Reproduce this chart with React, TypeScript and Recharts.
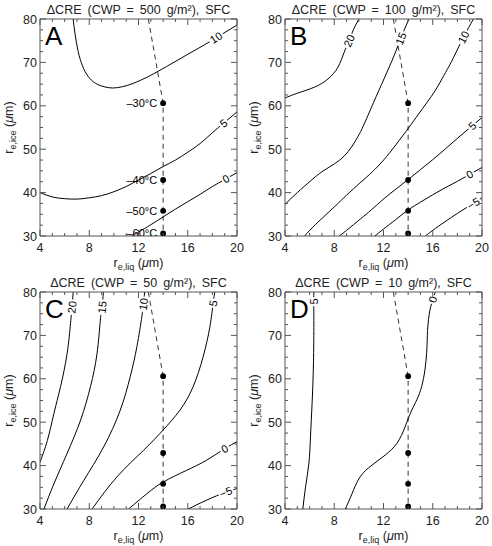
import React from 'react';
import { ComposedChart, Line, Scatter, XAxis, YAxis } from 'recharts';

type P = [number, number];

// ---------- axes ----------
const xTicks = [4, 5, 6, 7, 8, 9, 10, 11, 12, 13, 14, 15, 16, 17, 18, 19, 20];
const xMajor = [4, 8, 12, 16, 20];
const yTicks = [30, 32.5, 35, 37.5, 40, 42.5, 45, 47.5, 50, 52.5, 55, 57.5, 60, 62.5, 65, 67.5, 70, 72.5, 75, 77.5, 80];
const yMajor = [30, 40, 50, 60, 70, 80];

// ---------- temperature path (dashed) and points ----------
const pathX = [12.8, 14, 14];
const pathY = [80, 60.6, 30.5];
const tempX = 14;
const tempY = [60.6, 42.9, 35.8, 30.6];
const tempLabels = ['\u201330\u00b0C', '\u201340\u00b0C', '\u201350\u00b0C', '\u201360\u00b0C'];

// ---------- panel A : CWP = 500 ----------
const a10: P[] = [[6.69, 80], [6.85, 76.5], [7.1, 72.5], [7.45, 69.2], [7.9, 66.8], [8.5, 65.2], [9.2, 64.4], [9.9, 64.1], [10.7, 64.4], [11.6, 65.2], [12.7, 66.6], [13.75, 68.2], [14.8, 69.9], [15.9, 71.7], [16.9, 73.3], [17.8, 74.8], [18.9, 76.7], [20, 78.6]];
const a5: P[] = [[4, 40.0], [5, 39.0], [6, 38.6], [7, 38.5], [8, 38.8], [9, 39.3], [10, 40.2], [11, 41.4], [12, 42.9], [13, 44.4], [14, 46.0], [15, 47.5], [16, 49.3], [17, 51.3], [18, 53.8], [19, 56.2], [20, 58.6]];
const a0: P[] = [[11.46, 30], [12, 30.9], [13, 32.6], [14, 34.4], [15, 36.2], [16, 37.9], [17, 39.6], [18, 41.4], [19, 43.0], [20, 44.6]];
const aLabels = ['10', '5', '0'];
const aLabelX = [18.3, 18.9, 19.1];
const aLabelY = [75.7, 56.0, 43.2];
const aLabelAngle = [-33, -40, -30];

// ---------- panel B : CWP = 100 ----------
const b20: P[] = [[4, 61.8], [5.0, 62.9], [6.4, 64.3], [7.5, 66.2], [8.3, 68.9], [8.8, 72.3], [9.2, 75], [9.55, 77.5], [10.0, 80]];
const b15: P[] = [[4, 37.3], [5, 40.0], [6.12, 42.8], [7, 44.8], [8.0, 46.6], [8.8, 48.4], [9.4, 50.5], [9.9, 52.8], [10.35, 55.3], [11.2, 60.8], [12.04, 66.2], [12.85, 71.5], [13.4, 75.5], [14.06, 80]];
const b10: P[] = [[5.58, 30], [6.5, 32.7], [8.0, 36.7], [9.0, 39.4], [10.16, 42.4], [11.1, 44.8], [12.04, 47.6], [13.0, 51.0], [14.06, 55.0], [14.8, 57.9], [15.54, 60.8], [16.2, 63.5], [16.75, 66.2], [17.3, 69], [17.7, 71.2], [18.5, 75.8], [19.3, 80]];
const b5: P[] = [[8.4, 30], [9, 31.3], [10.16, 34], [11, 36], [12.04, 38.6], [13, 40.8], [14, 43], [15, 45.3], [16, 47.6], [17, 50.0], [18, 52.5], [19, 54.9], [20, 57.3]];
const b0: P[] = [[11.3, 30], [12, 31.6], [13, 33.8], [14, 36], [15, 37.8], [16, 39.5], [17, 41.1], [18, 42.6], [19, 44.2], [20, 45.8]];
const bm5: P[] = [[15.4, 30], [16, 31.3], [17, 33.3], [18, 35.2], [19, 37], [20, 38.8]];
const bLabels = ['20', '15', '10', '5', '0', '\u22125'];
const bLabelX = [9.2, 13.4, 18.5, 19.2, 19.0, 19.3];
const bLabelY = [75, 75.5, 75.8, 55.4, 44.2, 37.5];
const bLabelAngle = [-66, -68, -62, -43, -30, -32];

// ---------- panel C : CWP = 50 ----------
const c20: P[] = [[4, 40.8], [4.6, 45.8], [5.13, 52], [5.67, 58.2], [6.2, 65.8], [6.48, 72.8], [6.6, 76.5], [6.7, 80]];
const c15: P[] = [[4.32, 30], [5.13, 35.8], [6.2, 42.8], [7.3, 50.5], [8.1, 58.2], [8.63, 65.8], [8.9, 73.5], [9.04, 76.5], [9.15, 80]];
const c10: P[] = [[6.2, 30], [7.56, 36.6], [9.17, 44.3], [10.52, 52.8], [11.33, 60.5], [11.87, 67.4], [12.27, 74.3], [12.4, 77.2], [12.5, 80]];
const c5: P[] = [[8.23, 30], [10.25, 37.4], [12.4, 43.5], [14.0, 48.2], [15.37, 52.8], [16.44, 58.2], [17.25, 65.1], [17.8, 72], [18.06, 77.4], [18.2, 80]];
const c0: P[] = [[11.19, 30], [12.67, 33.5], [14, 36.2], [15.9, 38.9], [17.5, 41.2], [19.0, 43.9], [20, 45.5]];
const cm5: P[] = [[16.04, 30], [17.5, 32], [19.1, 33.9], [20, 34.7]];
const cLabels = ['20', '15', '10', '5', '0', '\u22125'];
const cLabelX = [6.6, 9.04, 12.4, 18.06, 19.0, 19.1];
const cLabelY = [76.5, 76.5, 77.2, 77.4, 43.9, 33.9];
const cLabelAngle = [-84, -84, -81, -80, -30, -22];

// ---------- panel D : CWP = 10 ----------
const d5: P[] = [[5.45, 30], [5.67, 35.1], [5.94, 40.5], [6.07, 46.6], [6.2, 54.3], [6.3, 62], [6.34, 70], [6.34, 76.2], [6.34, 80]];
const d0: P[] = [[8.9, 30], [9.44, 33.5], [10.1, 37.4], [11.06, 40.1], [12.13, 42.4], [13.08, 45.1], [13.75, 48.9], [14.3, 52.8], [15.1, 58.2], [15.5, 65.8], [15.58, 71.2], [15.77, 75.8], [16.04, 78.5], [16.2, 80]];
const dLabels = ['5', '0'];
const dLabelX = [6.36, 16.0];
const dLabelY = [77.8, 78.3];
const dLabelAngle = [-90, -74];

// ---------- panel meta ----------
const panelLetters = ['A', 'B', 'C', 'D'];
const panelCwp = [500, 100, 50, 10];

const FONT = '"Liberation Sans", Arial, Helvetica, sans-serif';
const FRAME = '#555';
const TXT = '#222';
const W = 246;
const H = 273;
// plot area spans x 40..237, y 19..236 (axes take 1px each)
const MARGIN = { top: 18, right: 8, bottom: 36, left: 39 };

const toPts = (arr: P[]) => arr.map(([x, y]) => ({ x, y }));

const BottomTick = (props: any) => {
  const { x, y, payload } = props;
  const v = payload.value;
  const major = xMajor.includes(v);
  return (
    <g>
      <line x1={x} y1={y} x2={x} y2={y - (major ? 6 : 3)} stroke={FRAME} strokeWidth={1} />
      {major && (
        <text x={x} y={y + 16} textAnchor="middle" fontSize={12.5} fill={TXT} fontFamily={FONT}>
          {v}
        </text>
      )}
    </g>
  );
};
const TopTick = (props: any) => {
  const { x, y, payload } = props;
  const major = xMajor.includes(payload.value);
  return <line x1={x} y1={y} x2={x} y2={y + (major ? 6 : 3)} stroke={FRAME} strokeWidth={1} />;
};
const LeftTick = (props: any) => {
  const { x, y, payload } = props;
  const v = payload.value;
  const major = yMajor.includes(v);
  return (
    <g>
      <line x1={x} y1={y} x2={x + (major ? 6 : 3)} y2={y} stroke={FRAME} strokeWidth={1} />
      {major && (
        <text x={x - 3} y={y + 4.5} textAnchor="end" fontSize={12.5} fill={TXT} fontFamily={FONT}>
          {v}
        </text>
      )}
    </g>
  );
};
const RightTick = (props: any) => {
  const { x, y, payload } = props;
  const major = yMajor.includes(payload.value);
  return <line x1={x} y1={y} x2={x - (major ? 6 : 3)} y2={y} stroke={FRAME} strokeWidth={1} />;
};

const ContourLabel = (props: any) => {
  const { cx, cy, payload } = props;
  if (cx == null || cy == null) return null;
  const t: string = payload.t;
  const w = t.length * 6.2 + 3;
  return (
    <g transform={`translate(${cx},${cy}) rotate(${payload.a})`}>
      <rect x={-w / 2} y={-5.5} width={w} height={11} fill="#fff" />
      <text x={0} y={4} textAnchor="middle" fontSize={11} fill="#000" fontFamily={FONT}>
        {t}
      </text>
    </g>
  );
};
const Dot = (props: any) => {
  const { cx, cy } = props;
  if (cx == null || cy == null) return null;
  return <circle cx={cx} cy={cy} r={2.9} fill="#000" />;
};
const TempLabel = (props: any) => {
  const { cx, cy, payload } = props;
  if (cx == null || cy == null) return null;
  return (
    <text x={cx - 6} y={cy + 4} textAnchor="end" fontSize={11} fill="#000" fontFamily={FONT}>
      {payload.t}
    </text>
  );
};

type PanelProps = {
  idx: number;
  contours: P[][];
  labels: string[];
  lx: number[];
  ly: number[];
  la: number[];
  temps: boolean;
};

const Panel = ({ idx, contours, labels, lx, ly, la, temps }: PanelProps) => {
  const labelData = labels.map((t, i) => ({ x: lx[i], y: ly[i], t, a: la[i] }));
  const pathData = pathX.map((x, i) => ({ x, y: pathY[i] }));
  const dotData = tempY.map((y, i) => ({ x: tempX, y, t: tempLabels[i] }));
  const plotL = MARGIN.left + 1;
  const plotR = W - MARGIN.right - 1;
  const plotT = MARGIN.top + 1;
  const plotB = H - MARGIN.bottom - 1;
  const cxPlot = (plotL + plotR) / 2;
  const cyPlot = (plotT + plotB) / 2;
  return (
    <div style={{ position: 'absolute', left: idx % 2 === 0 ? 0 : 245, top: idx < 2 ? 0 : 273, width: W, height: H }}>
      <ComposedChart width={W} height={H} margin={MARGIN}>
        <XAxis xAxisId="b" dataKey="x" type="number" domain={[4, 20]} allowDataOverflow ticks={xTicks} interval={0}
          height={1} tickSize={0} tickMargin={0} tickLine={false} axisLine={{ stroke: FRAME }} tick={<BottomTick />} orientation="bottom" />
        <XAxis xAxisId="t" dataKey="x" type="number" domain={[4, 20]} allowDataOverflow ticks={xTicks} interval={0}
          height={1} tickSize={0} tickMargin={0} tickLine={false} axisLine={{ stroke: FRAME }} tick={<TopTick />} orientation="top" />
        <YAxis yAxisId="l" type="number" domain={[30, 80]} allowDataOverflow ticks={yTicks} interval={0}
          width={1} tickSize={0} tickMargin={0} tickLine={false} axisLine={{ stroke: FRAME }} tick={<LeftTick />} orientation="left" />
        <YAxis yAxisId="r" type="number" domain={[30, 80]} allowDataOverflow ticks={yTicks} interval={0}
          width={1} tickSize={0} tickMargin={0} tickLine={false} axisLine={{ stroke: FRAME }} tick={<RightTick />} orientation="right" />
        <Line xAxisId="t" yAxisId="r" data={pathData} dataKey="y" type="linear" stroke="#000" strokeWidth={0} strokeOpacity={0}
          dot={false} isAnimationActive={false} />
        <Line xAxisId="b" yAxisId="l" data={pathData} dataKey="y" type="linear" stroke="#333" strokeWidth={1}
          strokeDasharray="5 4" dot={false} isAnimationActive={false} />
        {contours.map((c, i) => (
          <Line key={i} xAxisId="b" yAxisId="l" data={toPts(c)} dataKey="y" type="natural" stroke="#000" strokeWidth={1}
            dot={false} isAnimationActive={false} />
        ))}
        <Scatter xAxisId="b" yAxisId="l" data={labelData} dataKey="y" shape={<ContourLabel />} isAnimationActive={false} />
        <Scatter xAxisId="b" yAxisId="l" data={dotData} dataKey="y" shape={<Dot />} isAnimationActive={false} />
        {temps && (
          <Scatter xAxisId="b" yAxisId="l" data={dotData} dataKey="y" shape={<TempLabel />} isAnimationActive={false} />
        )}
      </ComposedChart>
      <svg width={W} height={H} style={{ position: 'absolute', left: 0, top: 0, pointerEvents: 'none' }} fontFamily={FONT}>
        <text x={cxPlot} y={14} textAnchor="middle" fontSize={12.5} fill={TXT} wordSpacing={2.5}>
          {`\u0394CRE (CWP = ${panelCwp[idx]} g/m\u00b2), SFC`}
        </text>
        <text x={plotL + 5} y={plotT + 26} fontSize={26} fill="#000">
          {panelLetters[idx]}
        </text>
        <text x={cxPlot} y={H - 6} textAnchor="middle" fontSize={12.5} fill={TXT}>
          r<tspan fontSize={9} dy={3}>e,liq</tspan>
          <tspan dy={-3}> (</tspan>
          <tspan fontStyle="italic">{'\u03bc'}</tspan>
          <tspan>m)</tspan>
        </text>
        <text transform={`translate(13,${cyPlot}) rotate(-90)`} textAnchor="middle" fontSize={12.5} fill={TXT}>
          r<tspan fontSize={9} dy={3}>e,ice</tspan>
          <tspan dy={-3}> (</tspan>
          <tspan fontStyle="italic">{'\u03bc'}</tspan>
          <tspan>m)</tspan>
        </text>
      </svg>
    </div>
  );
};

export default function App() {
  return (
    <div style={{ position: 'absolute', left: 0, top: 0, width: 492, height: 546, background: '#fff', fontFamily: FONT }}>
      <Panel idx={0} contours={[a10, a5, a0]} labels={aLabels} lx={aLabelX} ly={aLabelY} la={aLabelAngle} temps />
      <Panel idx={1} contours={[b20, b15, b10, b5, b0, bm5]} labels={bLabels} lx={bLabelX} ly={bLabelY} la={bLabelAngle} temps={false} />
      <Panel idx={2} contours={[c20, c15, c10, c5, c0, cm5]} labels={cLabels} lx={cLabelX} ly={cLabelY} la={cLabelAngle} temps={false} />
      <Panel idx={3} contours={[d5, d0]} labels={dLabels} lx={dLabelX} ly={dLabelY} la={dLabelAngle} temps={false} />
    </div>
  );
}
